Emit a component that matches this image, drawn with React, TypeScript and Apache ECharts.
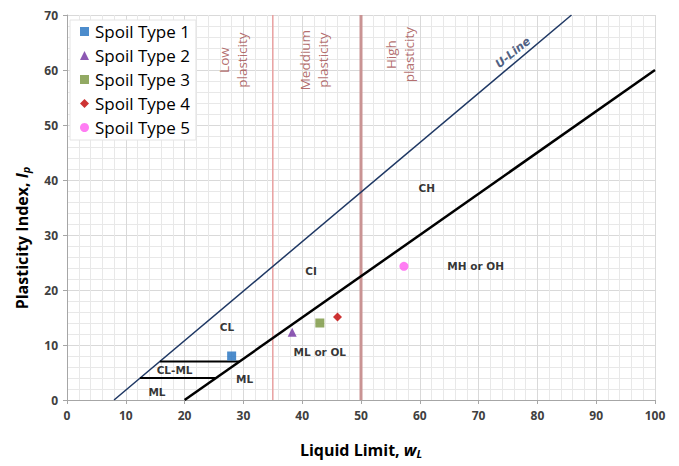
import React, { useEffect, useRef } from "react";
import * as echarts from "echarts";

// Plasticity chart: soil samples plotted against the A-line and U-line
const xTicks = [0, 10, 20, 30, 40, 50, 60, 70, 80, 90, 100];
const yTicks = [0, 10, 20, 30, 40, 50, 60, 70];

const seriesNames = ["Spoil Type 1", "Spoil Type 2", "Spoil Type 3", "Spoil Type 4", "Spoil Type 5"];
const liquidLimit = [28, 38.3, 43, 46, 57.3];
const plasticityIndex = [8, 12.3, 14, 15.1, 24.3];
const markerShapes = ["rect", "triangle", "rect", "diamond", "circle"];
const markerColors = ["#1f6fbf", "#7030a0", "#77933c", "#c00000", "#ff5cf0"];
const markerSizes = [9, 9, 9, 9, 9];

// Reference lines
const aLine = [[20, 0], [100, 60]];
const uLine = [[8, 0], [85.8, 70]];
const clmlUpper = [[15.8, 7], [29.3, 7]];
const clmlLower = [[12.4, 4], [25.3, 4]];
const boundaryLow = 35;
const boundaryHigh = 50;

// Zone annotations
const zoneNames = ["CL", "CI", "CH", "MH or OH", "ML or OL", "CL-ML", "ML", "ML"];
const zoneX = [27.2, 41.5, 61.2, 69.5, 43, 18.3, 15.3, 30.2];
const zoneY = [13.3, 23.5, 38.5, 24.3, 8.7, 5.5, 1.5, 3.8];

const plasticityBands = ["Low\nplasticity", "Meddium\nplasticity", "High\nplasticity"];
const bandX = [28.2, 42, 56.6];
const bandY = [61.8, 61.8, 62.8];

const font = "Open Sans";
const noteFont = "DejaVu Sans";

export default function App() {
  const ref = useRef<HTMLDivElement>(null);

  useEffect(() => {
    if (!ref.current) return;
    const chart = echarts.init(ref.current, null, { renderer: "svg" });

    const lineSeries = (data: number[][], color: string, width: number) => ({
      type: "line",
      data,
      symbol: "none",
      silent: true,
      lineStyle: { color, width },
      z: 3,
    });

    const scatterSeries = seriesNames.map((name, i) => ({
      name,
      type: "scatter",
      symbol: markerShapes[i],
      symbolSize: markerSizes[i],
      itemStyle: { color: markerColors[i] },
      data: [[liquidLimit[i], plasticityIndex[i]]],
      z: 5,
    }));

    const titleRich = {
      b: { fontFamily: font, fontWeight: "bold", fontSize: 16, color: "#000" },
      i: { fontFamily: font, fontWeight: "bold", fontStyle: "italic", fontSize: 16, color: "#000" },
      s: { fontFamily: font, fontWeight: "bold", fontStyle: "italic", fontSize: 11, color: "#000", padding: [7, 0, 0, 0] },
    };

    chart.setOption({
      animation: false,
      backgroundColor: "#ffffff",
      grid: { left: 67, right: 24, top: 15, bottom: 66 },
      legend: {
        orient: "vertical",
        left: 70,
        top: 20,
        padding: [3, 6, 4, 10],
        itemGap: 7,
        itemWidth: 9,
        itemHeight: 9,
        backgroundColor: "#ffffff",
        borderColor: "#e4e4e4",
        borderWidth: 1,
        data: seriesNames.map((name, i) => ({ name, icon: markerShapes[i] })),
        textStyle: { fontFamily: font, fontSize: 17, color: "#000", padding: [0, 0, 0, 1] },
      },
      graphic: [
        {
          type: "text",
          x: 22,
          y: 238,
          rotation: Math.PI / 2,
          style: {
            text: "{b|Plasticity Index, }{i|I}{s|p}",
            rich: titleRich,
            align: "center",
            verticalAlign: "middle",
          },
        },
      ],
      xAxis: {
        type: "value",
        min: 0,
        max: 100,
        interval: 10,
        axisLine: { show: true, lineStyle: { color: "#a6a6a6" } },
        axisTick: { show: true, length: 4, lineStyle: { color: "#a6a6a6" } },
        axisLabel: {
          fontFamily: font,
          fontWeight: "bold",
          fontSize: 12,
          color: "#404040",
          margin: 9,
          formatter: (v: number) => (xTicks.includes(v) ? String(v) : ""),
        },
        splitLine: { show: true, lineStyle: { color: "#d9d9d9", width: 1 } },
        minorTick: { show: false, splitNumber: 5 },
        minorSplitLine: { show: true, lineStyle: { color: "#e8e8e8", width: 1 } },
        name: "{b|Liquid Limit, }{i|w}{s|L}",
        nameLocation: "middle",
        nameGap: 41,
        nameTextStyle: { rich: titleRich },
      },
      yAxis: {
        type: "value",
        min: 0,
        max: 70,
        interval: 10,
        axisLine: { show: true, lineStyle: { color: "#a6a6a6" } },
        axisTick: { show: true, length: 4, lineStyle: { color: "#a6a6a6" } },
        axisLabel: {
          fontFamily: font,
          fontWeight: "bold",
          fontSize: 12,
          color: "#404040",
          margin: 9,
          formatter: (v: number) => (yTicks.includes(v) ? String(v) : ""),
        },
        splitLine: { show: true, lineStyle: { color: "#d9d9d9", width: 1 } },
        minorTick: { show: false, splitNumber: 5 },
        minorSplitLine: { show: true, lineStyle: { color: "#e8e8e8", width: 1 } },
      },
      series: [
        lineSeries([[boundaryLow, 0], [boundaryLow, 70]], "#e8a0a0", 1.5),
        lineSeries([[boundaryHigh, 0], [boundaryHigh, 70]], "#c99393", 3),
        lineSeries(uLine, "#1f3864", 1.5),
        lineSeries(aLine, "#000000", 2.5),
        lineSeries(clmlUpper, "#000000", 2),
        lineSeries(clmlLower, "#000000", 2),
        {
          type: "scatter",
          silent: true,
          symbolSize: 0,
          z: 6,
          data: zoneNames.map((n, i) => ({ value: [zoneX[i], zoneY[i]], name: n })),
          label: {
            show: true,
            position: "inside",
            formatter: (p: any) => p.name,
            fontFamily: noteFont,
            fontWeight: "bold",
            fontSize: 10.5,
            color: "#000",
          },
        },
        {
          type: "scatter",
          silent: true,
          symbolSize: 0,
          z: 6,
          data: [{ value: [75.8, 63.2], name: "U-Line" }],
          label: {
            show: true,
            position: "inside",
            rotate: 39,
            formatter: (p: any) => p.name,
            fontFamily: noteFont,
            fontStyle: "italic",
            fontWeight: "bold",
            fontSize: 11.5,
            color: "#1f3864",
          },
        },
        {
          type: "scatter",
          silent: true,
          symbolSize: 0,
          z: 6,
          data: plasticityBands.map((n, i) => ({ value: [bandX[i], bandY[i]], name: n })),
          label: {
            show: true,
            position: "inside",
            rotate: 90,
            formatter: (p: any) => p.name,
            fontFamily: font,
            fontSize: 13.5,
            lineHeight: 18,
            color: "#a04848",
          },
        },
        ...scatterSeries,
      ],
    });

    return () => chart.dispose();
  }, []);

  return <div ref={ref} style={{ width: 679, height: 466, position: "absolute", left: 0, top: 0 }} />;
}
